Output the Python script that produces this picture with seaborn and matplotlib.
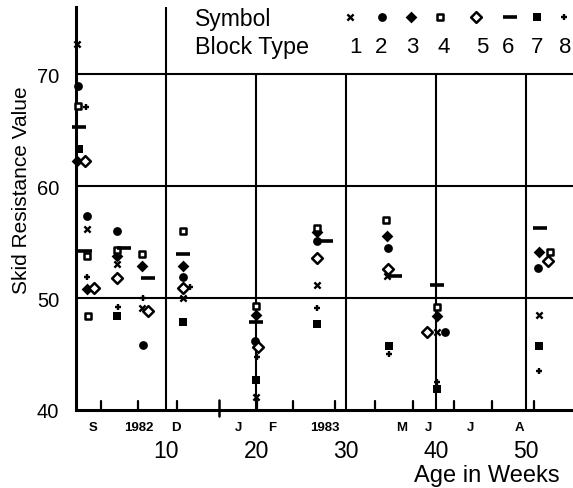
import matplotlib
matplotlib.use("Agg")
import matplotlib.pyplot as plt
import seaborn as sns
import pandas as pd
from matplotlib.transforms import blended_transform_factory

sns.set_theme(style="white")
plt.rcParams['font.family'] = ['Liberation Sans', 'DejaVu Sans']

# ---- data: (age in weeks, skid resistance value) per block type ----
t1_weeks = [0.1, 1.2, 4.5, 7.3, 11.9, 20.0, 26.8, 34.5, 40.1, 51.4]
t1_vals  = [72.7, 56.2, 53.0, 49.1, 50.0, 41.2, 51.2, 52.0, 47.0, 48.5]

t2_weeks = [0.2, 1.2, 4.5, 7.4, 11.9, 19.9, 26.8, 34.6, 41.0, 51.3]
t2_vals  = [68.9, 57.3, 56.0, 45.8, 51.9, 46.2, 55.1, 54.5, 47.0, 52.7]

t3_weeks = [0.1, 1.2, 4.5, 7.3, 11.9, 20.0, 26.8, 34.5, 40.1, 51.4]
t3_vals  = [62.2, 50.8, 53.75, 52.9, 52.9, 48.5, 55.9, 55.5, 48.4, 54.1]

t4_weeks = [0.2, 1.2, 1.3, 4.5, 7.3, 11.9, 20.0, 26.8, 34.4, 40.1, 52.6]
t4_vals  = [67.2, 53.8, 48.4, 54.3, 53.9, 56.0, 49.3, 56.3, 57.0, 49.2, 54.1]

t5_weeks = [1.0, 2.0, 4.6, 8.0, 11.9, 20.2, 26.8, 34.6, 39.0, 52.4]
t5_vals  = [62.2, 50.9, 51.8, 48.8, 50.9, 45.6, 53.6, 52.6, 47.0, 53.3]

t6_weeks = [0.3, 1.0, 5.3, 8.0, 11.9, 20.0, 27.8, 35.4, 40.1, 51.5]
t6_vals  = [65.3, 54.2, 54.5, 51.8, 53.9, 47.9, 55.1, 52.0, 51.2, 56.25]

t7_weeks = [0.3, 4.5, 11.9, 20.0, 26.8, 34.8, 40.1, 51.4]
t7_vals  = [63.3, 48.4, 47.9, 42.7, 47.7, 45.7, 41.9, 45.7]

t8_weeks = [1.1, 1.2, 4.7, 7.4, 12.7, 20.1, 26.8, 34.8, 40.1, 51.4]
t8_vals  = [67.1, 51.9, 49.2, 50.0, 51.0, 44.7, 49.1, 45.0, 42.5, 43.5]

block_types = ["1", "2", "3", "4", "5", "6", "7", "8"]
y_ticks = [40, 50, 60, 70]
x_ticks = [10, 20, 30, 40, 50]
month_labels = ["S", "1982", "D", "J", "F", "1983", "M", "J", "J", "A"]
month_label_weeks = [1.9, 7.0, 11.1, 18.0, 21.8, 27.6, 36.2, 39.1, 43.8, 49.3]
month_bounds = [2.8, 6.9, 11.2, 20.1, 24.1, 28.8, 33.2, 37.4, 42.0, 46.2, 50.9]
year_bound = [15.9]

series = [(t1_weeks, t1_vals), (t2_weeks, t2_vals), (t3_weeks, t3_vals),
          (t4_weeks, t4_vals), (t5_weeks, t5_vals), (t6_weeks, t6_vals),
          (t7_weeks, t7_vals), (t8_weeks, t8_vals)]

# marker styles per block type
styles = [
    dict(marker="x", s=20, color="black", linewidth=1.7),
    dict(marker="o", s=40, color="black", edgecolor="black", linewidth=0),
    dict(marker="D", s=36, color="black", edgecolor="black", linewidth=0),
    dict(marker="s", s=20, facecolor="white", edgecolor="black", linewidth=1.8),
    dict(marker="D", s=30, facecolor="white", edgecolor="black", linewidth=1.8),
    dict(marker="_", s=110, color="black", linewidth=2.6),
    dict(marker="s", s=36, color="black", edgecolor="black", linewidth=0),
    dict(marker="+", s=24, color="black", linewidth=1.7),
]

W, H = 573, 489
fig = plt.figure(figsize=(W / 100, H / 100), dpi=100)
ax = fig.add_axes([76 / W, 78 / H, 497 / W, 403 / H])
ax.set_xlim(0, 55.2)
ax.set_ylim(40, 76)

for (wk, vals), bt, st in zip(series, block_types, styles):
    df = pd.DataFrame({"week": wk, "value": vals})
    sns.scatterplot(data=df, x="week", y="value", ax=ax, legend=False,
                    zorder=5, clip_on=False, **st)

# grid lines
for yv in [50, 60, 70]:
    ax.axhline(yv, color="black", lw=1.5, zorder=2)
ax.axvline(10, color="black", lw=1.5, zorder=2)
ax.vlines([20, 30, 40, 50], 40, 70, color="black", lw=1.5, zorder=2)

# month boundary ticks along the bottom axis
for mb in month_bounds:
    ax.axvline(mb, ymin=0.0, ymax=0.022, color="black", lw=1.6, zorder=6,
               clip_on=False)
for yb in year_bound:
    ax.axvline(yb, ymin=-0.015, ymax=0.025, color="black", lw=1.8, zorder=6,
               clip_on=False)

# spines
sns.despine(ax=ax, top=True, right=True)
for sp in ["left", "bottom"]:
    ax.spines[sp].set_linewidth(2.2)
    ax.spines[sp].set_color("black")

ax.set_yticks(y_ticks)
ax.set_yticklabels([str(v) for v in y_ticks])
ax.set_xticks(x_ticks)
ax.set_xticklabels([str(v) for v in x_ticks])
ax.tick_params(axis="y", length=0, pad=12, labelsize=14.5, colors="black")
ax.tick_params(axis="x", which="major", length=0, pad=21, labelsize=16.5,
               colors="black")
ax.set_xlabel("")
ax.set_ylabel("")

trans = blended_transform_factory(ax.transData, ax.transAxes)
for name, pos in zip(month_labels, month_label_weeks):
    ax.text(pos, -0.043, name, transform=trans, ha="center", va="center",
            fontsize=9.5, fontweight="bold", color="black")

fig.text(487 / W, 1 - 476 / H, "Age in Weeks", ha="center", va="center",
         fontsize=17, color="black")
fig.text(22 / W, 1 - 190 / H, "Skid Resistance Value", rotation=90,
         ha="center", va="center", fontsize=15, color="black")

# symbol legend at top
ax.text(13.2, 74.95, "Symbol", ha="left", va="center", fontsize=16.5, color="black")
ax.text(13.2, 72.5, "Block Type", ha="left", va="center", fontsize=16.8, color="black")
legend_sym_weeks = [30.4, 34.0, 37.2, 40.4, 44.4, 48.2, 51.2, 54.2]
legend_num_weeks = [31.0, 33.9, 37.3, 40.8, 45.1, 48.0, 51.2, 54.3]
for bt, st, xs, xn in zip(block_types, styles, legend_sym_weeks, legend_num_weeks):
    ax.scatter([xs], [75.1], zorder=5, clip_on=False, **st)
    ax.text(xn, 72.5, bt, ha="center", va="center", fontsize=16, color="black")

fig.savefig("out.png", dpi=100, facecolor="white")
